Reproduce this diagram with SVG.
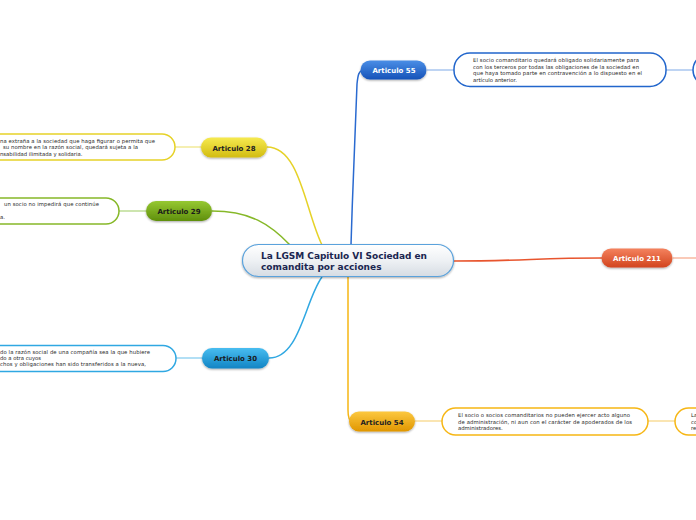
<svg xmlns="http://www.w3.org/2000/svg" width="696" height="520" viewBox="0 0 696 520">
<defs>
<linearGradient id="gCenter" x1="0" y1="0" x2="0" y2="1"><stop offset="0" stop-color="#ffffff"/><stop offset="0.5" stop-color="#eef1f4"/><stop offset="1" stop-color="#d6dce3"/></linearGradient>
<linearGradient id="gBlue" x1="0" y1="0" x2="0" y2="1"><stop offset="0" stop-color="#4a8ee6"/><stop offset="1" stop-color="#1552b8"/></linearGradient>
<linearGradient id="gYellow" x1="0" y1="0" x2="0" y2="1"><stop offset="0" stop-color="#f6ea50"/><stop offset="1" stop-color="#d2bc10"/></linearGradient>
<linearGradient id="gGreen" x1="0" y1="0" x2="0" y2="1"><stop offset="0" stop-color="#96c832"/><stop offset="1" stop-color="#5f8f0c"/></linearGradient>
<linearGradient id="gCyan" x1="0" y1="0" x2="0" y2="1"><stop offset="0" stop-color="#48bdf0"/><stop offset="1" stop-color="#1284c4"/></linearGradient>
<linearGradient id="gOrange" x1="0" y1="0" x2="0" y2="1"><stop offset="0" stop-color="#fcc840"/><stop offset="1" stop-color="#e09600"/></linearGradient>
<linearGradient id="gRed" x1="0" y1="0" x2="0" y2="1"><stop offset="0" stop-color="#f4825e"/><stop offset="1" stop-color="#d2441e"/></linearGradient>
<filter id="sh" x="-20%" y="-30%" width="140%" height="160%"><feGaussianBlur in="SourceAlpha" stdDeviation="1.2"/><feOffset dx="0" dy="1" result="b"/><feComponentTransfer><feFuncA type="linear" slope="0.35"/></feComponentTransfer><feMerge><feMergeNode/><feMergeNode in="SourceGraphic"/></feMerge></filter>
</defs>
<style>
.conn{fill:none;stroke-width:1.5}
.sub{fill:none;stroke-width:1.5}
.box{fill:#ffffff;stroke-width:1.5}
.lbl{font-family:"DejaVu Sans","Verdana",sans-serif;font-weight:bold;font-size:7px;text-anchor:middle}
.txt{font-family:"DejaVu Sans","Verdana",sans-serif;font-size:5.3px;fill:#1e1e1e}
.ctr{font-family:"DejaVu Sans","Verdana",sans-serif;font-weight:bold;font-size:9px;fill:#1b2650}
</style>
<g id="connectors">
<path class="conn" stroke="#2a6ad0" d="M351,245 C353,180 356,100 357,84 C358,74 359,71 363,70"/>
<path class="conn" stroke="#e6d228" d="M267,147 C300,147 305,210 322,245"/>
<path class="conn" stroke="#86b828" d="M212,211 C250,211 270,224 290,245"/>
<path class="conn" stroke="#30a8e2" d="M269,358 C300,358 305,300 322,277"/>
<path class="conn" stroke="#f6b614" d="M348,277 L348,410 Q348,421 352,421"/>
<path class="conn" stroke="#e8552e" d="M454,261 C520,261 540,258 602,258"/>
<path class="sub" stroke="#a9c6ef" d="M427,70 L454,70"/>
<path class="sub" stroke="#a9c6ef" d="M666,70 L693,70"/>
<path class="sub" stroke="#f2ea98" d="M201,147 L175,147"/>
<path class="sub" stroke="#bcdc94" d="M146,211 L119,211"/>
<path class="sub" stroke="#98d4f2" d="M202,358 L176,358"/>
<path class="sub" stroke="#f8dc98" d="M415,421 L442,421"/>
<path class="sub" stroke="#f8dc98" d="M648,421 L675,421"/>
<path class="sub" stroke="#f8b8a0" d="M673,258 L696,258"/>
</g>
<g id="central">
<rect x="242.5" y="244.5" width="211" height="32" rx="16" fill="url(#gCenter)" stroke="#5aa2dc" stroke-width="1.2" filter="url(#sh)"/>
<text class="ctr" x="261" y="259" textLength="166">La LGSM Capitulo VI Sociedad en</text>
<text class="ctr" x="261" y="270">comandita por acciones</text>
</g>
<g id="art55">
<rect x="360.5" y="60.5" width="66" height="19" rx="9.5" fill="url(#gBlue)" filter="url(#sh)"/>
<text class="lbl" x="394" y="73" fill="#ffffff">Articulo 55</text>
</g>
<g id="art55-text">
<rect class="box" x="454" y="53" width="212" height="33.5" rx="16" stroke="#2266cc"/>
<text class="txt" x="473" y="62" textLength="166">El socio comanditario quedará obligado solidariamente para</text>
<text class="txt" x="473" y="68.5" textLength="166">con los terceros por todas las obligaciones de la sociedad en</text>
<text class="txt" x="473" y="75" textLength="169">que haya tomado parte en contravención a lo dispuesto en el</text>
<text class="txt" x="473" y="81.5">artículo anterior.</text>
</g>
<g id="art55-next">
<rect class="box" x="693" y="54" width="120" height="32" rx="16" stroke="#2266cc"/>
</g>
<g id="art28">
<rect x="201" y="137.5" width="66" height="20" rx="10" fill="url(#gYellow)" filter="url(#sh)"/>
<text class="lbl" x="234" y="150.5" fill="#222222">Articulo 28</text>
</g>
<g id="art28-text">
<rect class="box" x="-40" y="134" width="215" height="26" rx="13" stroke="#e6d228"/>
<text class="txt" x="0" y="142.5" textLength="155">na extraña a la sociedad que haga figurar o permita que</text>
<text class="txt" x="3" y="149" textLength="135">su nombre en la razón social, quedará sujeta a la</text>
<text class="txt" x="0" y="155.5">nsabilidad ilimitada y solidaria.</text>
</g>
<g id="art29">
<rect x="146" y="201" width="66" height="20" rx="10" fill="url(#gGreen)" filter="url(#sh)"/>
<text class="lbl" x="179" y="214" fill="#1a1a1a">Articulo 29</text>
</g>
<g id="art29-text">
<rect class="box" x="-40" y="198" width="159" height="26" rx="13" stroke="#86b828"/>
<text class="txt" x="4" y="206" textLength="95">un socio no impedirá que continúe</text>
<text class="txt" x="0" y="219">a.</text>
</g>
<g id="art30">
<rect x="202" y="348" width="67" height="20.5" rx="10" fill="url(#gCyan)" filter="url(#sh)"/>
<text class="lbl" x="235.5" y="361" fill="#1a1a1a">Articulo 30</text>
</g>
<g id="art30-text">
<rect class="box" x="-40" y="345.5" width="216" height="26" rx="13" stroke="#30a8e2"/>
<text class="txt" x="0" y="354" textLength="150">do la razón social de una compañía sea la que hubiere</text>
<text class="txt" x="0" y="360">do a otra cuyos</text>
<text class="txt" x="0" y="366" textLength="146">chos y obligaciones han sido transferidos a la nueva,</text>
</g>
<g id="art54">
<rect x="349" y="411.5" width="66" height="20" rx="10" fill="url(#gOrange)" filter="url(#sh)"/>
<text class="lbl" x="382" y="424.5" fill="#222222">Articulo 54</text>
</g>
<g id="art54-text">
<rect class="box" x="442" y="408" width="206" height="27" rx="13.5" stroke="#f6b614"/>
<text class="txt" x="458" y="417" textLength="172">El socio o socios comanditarios no pueden ejercer acto alguno</text>
<text class="txt" x="458" y="423.5" textLength="174">de administración, ni aun con el carácter de apoderados de los</text>
<text class="txt" x="458" y="430">administradores.</text>
</g>
<g id="art54-next">
<rect class="box" x="675" y="408" width="120" height="27" rx="13.5" stroke="#f6b614"/>
<text class="txt" x="691" y="417">La</text>
<text class="txt" x="691" y="423.5">co</text>
<text class="txt" x="691" y="430">re</text>
</g>
<g id="art211">
<rect x="601.5" y="248.5" width="71" height="19" rx="9.5" fill="url(#gRed)" filter="url(#sh)"/>
<text class="lbl" x="637" y="261" fill="#ffffff">Articulo 211</text>
</g>
</svg>
